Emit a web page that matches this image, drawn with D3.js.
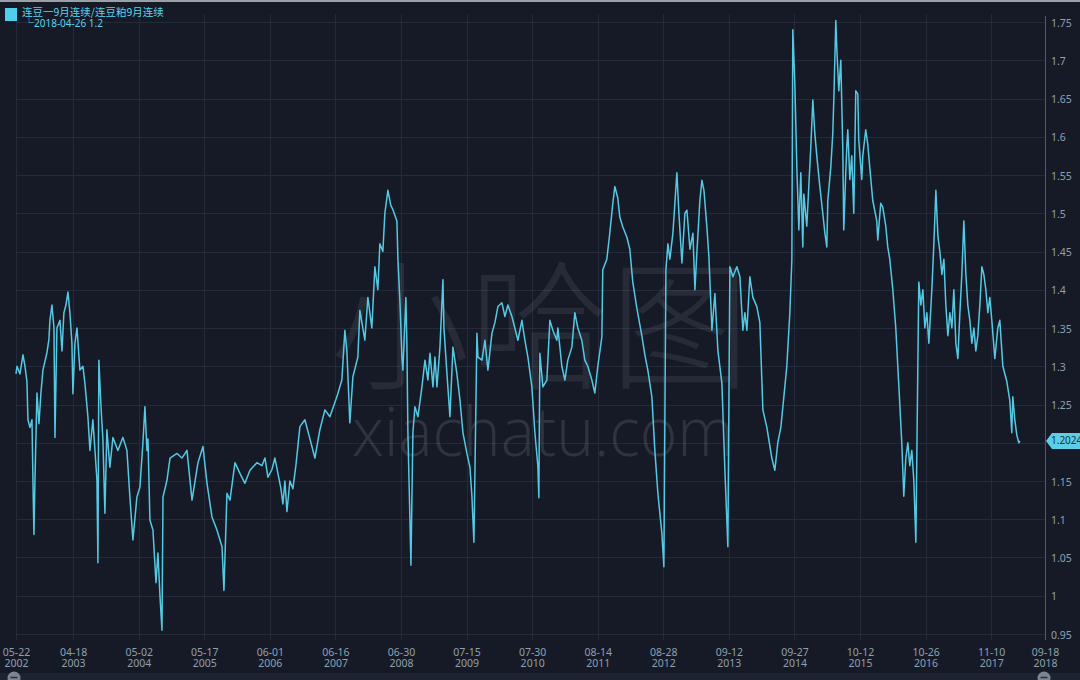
<!DOCTYPE html>
<html><head><meta charset="utf-8">
<script src="https://cdn.jsdelivr.net/npm/d3@7"></script>
<style>html,body{margin:0;padding:0;background:#161a27;overflow:hidden}</style>
</head><body><svg id="c" width="1080" height="680"></svg>
<script>
const seriesName = "连豆一9月连续/连豆粕9月连续";
const lastLabel = "└2018-04-26 1.2";
const lastValue = 1.2024;
const watermarkCn = "小哈图";
const watermarkEn = "xiachatu.com";

// dates as decimal years
const dateYears = [
2002.386,2002.402,2002.449,2002.497,2002.529,2002.560,2002.576,2002.608,2002.640,2002.656,
2002.671,2002.687,2002.719,2002.751,2002.782,2002.814,2002.878,2002.909,2002.925,2002.957,
2002.989,2003.005,2003.036,2003.084,2003.116,2003.147,2003.179,2003.211,2003.242,2003.274,
2003.290,2003.322,2003.354,2003.401,2003.449,2003.480,2003.528,2003.560,2003.607,2003.671,
2003.687,2003.702,2003.734,2003.766,2003.798,2003.829,2003.877,2003.925,2004.004,2004.083,
2004.147,2004.194,2004.242,2004.305,2004.353,2004.400,2004.432,2004.464,2004.480,2004.511,
2004.559,2004.607,2004.638,2004.670,2004.702,2004.718,2004.781,2004.829,2004.940,2005.019,
2005.098,2005.178,2005.273,2005.352,2005.416,2005.495,2005.574,2005.654,2005.685,2005.733,
2005.781,2005.860,2005.939,2006.018,2006.098,2006.209,2006.288,2006.336,2006.383,2006.447,
2006.494,2006.542,2006.590,2006.621,2006.653,2006.685,2006.732,2006.780,2006.827,2006.891,
2006.970,2007.050,2007.129,2007.208,2007.288,2007.367,2007.478,2007.557,2007.605,2007.637,
2007.684,2007.732,2007.811,2007.843,2007.922,2007.970,2008.033,2008.081,2008.128,2008.160,
2008.208,2008.239,2008.287,2008.334,2008.366,2008.430,2008.446,2008.477,2008.509,2008.525,
2008.572,2008.588,2008.604,2008.636,2008.652,2008.683,2008.715,2008.763,2008.826,2008.874,
2008.921,2008.953,2009.001,2009.032,2009.064,2009.112,2009.159,2009.175,2009.223,2009.270,
2009.318,2009.381,2009.429,2009.477,2009.540,2009.588,2009.619,2009.651,2009.699,2009.715,
2009.778,2009.826,2009.873,2009.937,2009.984,2010.032,2010.095,2010.143,2010.190,2010.254,
2010.301,2010.349,2010.413,2010.460,2010.508,2010.571,2010.619,2010.666,2010.682,2010.698,
2010.746,2010.809,2010.857,2010.904,2010.968,2010.984,2011.047,2011.095,2011.142,2011.206,
2011.253,2011.301,2011.364,2011.412,2011.459,2011.523,2011.571,2011.618,2011.682,2011.697,
2011.761,2011.808,2011.856,2011.888,2011.935,2011.967,2012.015,2012.078,2012.126,2012.173,
2012.237,2012.316,2012.364,2012.411,2012.475,2012.522,2012.570,2012.633,2012.665,2012.697,
2012.729,2012.760,2012.808,2012.871,2012.903,2012.951,2012.998,2013.030,2013.078,2013.125,
2013.157,2013.189,2013.236,2013.268,2013.300,2013.347,2013.379,2013.427,2013.474,2013.522,
2013.585,2013.633,2013.680,2013.712,2013.760,2013.823,2013.871,2013.918,2013.950,2013.982,
2014.029,2014.077,2014.140,2014.188,2014.236,2014.299,2014.378,2014.426,2014.473,2014.521,
2014.569,2014.616,2014.664,2014.696,2014.711,2014.743,2014.775,2014.807,2014.838,2014.870,
2014.886,2014.933,2014.965,2014.997,2015.029,2015.060,2015.092,2015.140,2015.187,2015.219,
2015.251,2015.267,2015.314,2015.346,2015.362,2015.394,2015.409,2015.441,2015.473,2015.505,
2015.520,2015.552,2015.568,2015.584,2015.616,2015.647,2015.679,2015.711,2015.743,2015.758,
2015.806,2015.822,2015.869,2015.901,2015.933,2015.980,2016.044,2016.060,2016.107,2016.139,
2016.187,2016.218,2016.250,2016.298,2016.345,2016.377,2016.409,2016.440,2016.472,2016.504,
2016.536,2016.567,2016.599,2016.631,2016.663,2016.694,2016.710,2016.742,2016.774,2016.805,
2016.837,2016.869,2016.916,2016.948,2016.980,2017.012,2017.043,2017.075,2017.107,2017.138,
2017.170,2017.202,2017.234,2017.265,2017.297,2017.329,2017.361,2017.392,2017.424,2017.456,
2017.487,2017.519,2017.551,2017.583,2017.614,2017.646,2017.678,2017.710,2017.741,2017.773,
2017.805,2017.836,2017.868,2017.916,2017.963,2017.995,2018.043,2018.106,2018.154,2018.185,
2018.201,2018.233,2018.265,2018.296,2018.315
];
const ratio = [
1.29,1.30,1.29,1.315,1.30,1.28,1.23,1.22,1.23,1.147,
1.08,1.15,1.265,1.225,1.265,1.295,1.318,1.335,1.36,1.38,
1.35,1.207,1.35,1.36,1.32,1.37,1.38,1.397,1.37,1.33,
1.264,1.33,1.35,1.295,1.30,1.278,1.234,1.19,1.23,1.152,
1.043,1.308,1.25,1.204,1.108,1.217,1.168,1.207,1.19,1.207,
1.19,1.129,1.073,1.129,1.142,1.20,1.247,1.19,1.205,1.099,
1.086,1.017,1.056,1.00,0.955,1.129,1.151,1.18,1.186,1.18,
1.19,1.125,1.174,1.195,1.147,1.103,1.086,1.064,1.007,1.134,
1.125,1.174,1.16,1.147,1.164,1.174,1.17,1.18,1.155,1.165,
1.18,1.16,1.14,1.12,1.15,1.11,1.15,1.14,1.17,1.221,
1.23,1.205,1.18,1.217,1.243,1.234,1.26,1.282,1.347,1.32,
1.226,1.286,1.312,1.373,1.334,1.39,1.35,1.43,1.40,1.46,
1.45,1.50,1.53,1.51,1.505,1.49,1.44,1.386,1.312,1.295,
1.39,1.33,1.213,1.10,1.04,1.213,1.247,1.234,1.273,1.308,
1.282,1.317,1.273,1.312,1.273,1.325,1.413,1.35,1.29,1.234,
1.325,1.29,1.256,1.213,1.186,1.168,1.13,1.07,1.343,1.312,
1.308,1.334,1.295,1.343,1.357,1.378,1.383,1.365,1.38,1.365,
1.35,1.334,1.36,1.334,1.312,1.273,1.213,1.17,1.128,1.317,
1.273,1.282,1.36,1.347,1.334,1.35,1.30,1.282,1.308,1.325,
1.37,1.35,1.334,1.308,1.30,1.282,1.265,1.30,1.338,1.426,
1.44,1.474,1.513,1.535,1.52,1.495,1.482,1.469,1.453,1.41,
1.376,1.34,1.315,1.295,1.26,1.19,1.134,1.082,1.038,1.426,
1.46,1.44,1.474,1.553,1.50,1.435,1.50,1.504,1.453,1.474,
1.40,1.45,1.517,1.543,1.53,1.482,1.443,1.347,1.395,1.32,
1.278,1.164,1.064,1.43,1.417,1.43,1.417,1.347,1.37,1.347,
1.417,1.39,1.378,1.357,1.243,1.22,1.18,1.164,1.20,1.22,
1.26,1.30,1.37,1.439,1.74,1.67,1.56,1.478,1.553,1.456,
1.525,1.483,1.535,1.587,1.648,1.605,1.575,1.535,1.50,1.475,
1.456,1.517,1.56,1.605,1.648,1.752,1.717,1.66,1.70,1.583,
1.478,1.553,1.587,1.609,1.544,1.575,1.50,1.66,1.656,1.596,
1.544,1.575,1.609,1.59,1.56,1.517,1.49,1.465,1.513,1.508,
1.483,1.456,1.44,1.40,1.35,1.30,1.25,1.20,1.13,1.18,
1.20,1.17,1.19,1.15,1.07,1.30,1.41,1.38,1.40,1.35,
1.37,1.33,1.40,1.46,1.53,1.47,1.45,1.42,1.44,1.38,
1.34,1.37,1.35,1.40,1.33,1.31,1.37,1.42,1.49,1.42,
1.38,1.36,1.33,1.35,1.32,1.34,1.38,1.43,1.42,1.40,
1.37,1.39,1.36,1.31,1.35,1.36,1.30,1.28,1.255,1.213,
1.26,1.23,1.21,1.20,1.2024
];
const xTickDates = ["2002-05-22","2003-04-18","2004-05-02","2005-05-17","2006-06-01","2007-06-16",
  "2008-06-30","2009-07-15","2010-07-30","2011-08-14","2012-08-28","2013-09-12","2014-09-27",
  "2015-10-12","2016-10-26","2017-11-10","2018-09-18"];
const yTicks = [0.95,1,1.05,1.1,1.15,1.2,1.25,1.3,1.35,1.4,1.45,1.5,1.55,1.6,1.65,1.7,1.75];

const C = {bg:"#161a27", grid:"#232a39", line:"#55c8e2", label:"#8fa0b0", axis:"#3f626c", legend:"#5ad2ea"};
const FONT = "'Noto Sans','Noto Sans CJK SC',sans-serif";

function yearToDate(v){ const Y=Math.floor(v); const s=Date.UTC(Y,0,1), e=Date.UTC(Y+1,0,1); return new Date(s+(v-Y)*(e-s)); }
const parse = d3.utcParse("%Y-%m-%d");
const data = dateYears.map((d,i)=>({date:yearToDate(d), v:ratio[i]}));
const tickDates = xTickDates.map(parse);

const svg = d3.select("#c");
svg.append("rect").attr("width",1080).attr("height",680).attr("fill",C.bg);
svg.append("rect").attr("width",1080).attr("height",2).attr("fill","#9aa0a8");

const x = d3.scaleUtc().domain([tickDates[0], tickDates[tickDates.length-1]]).range([16,1045]);
const y = d3.scaleLinear().domain([0.95,1.75]).range([634,22]);

// grid
const grid = svg.append("g");
grid.selectAll("line.h").data(yTicks).join("line").attr("class","h")
  .attr("x1",16).attr("x2",1045).attr("y1",d=>Math.round(y(d))+0.5).attr("y2",d=>Math.round(y(d))+0.5)
  .attr("stroke",C.grid).attr("stroke-width",1);
grid.selectAll("line.v").data(tickDates.slice(0,-1)).join("line").attr("class","v")
  .attr("x1",d=>Math.round(x(d))+0.5).attr("x2",d=>Math.round(x(d))+0.5).attr("y1",14).attr("y2",640)
  .attr("stroke",C.grid).attr("stroke-width",1);

// watermark
svg.append("text").attr("x",540).attr("y",378).attr("text-anchor","middle")
  .attr("font-family","'Noto Sans CJK SC',sans-serif").attr("font-size",140).attr("font-weight",300)
  .attr("fill","#ffffff").attr("fill-opacity",0.075).text(watermarkCn);
svg.append("text").attr("x",352).attr("y",456).attr("textLength",382).attr("lengthAdjust","spacingAndGlyphs")
  .attr("font-family","'Open Sans',sans-serif").attr("font-size",68).attr("font-weight",300)
  .attr("fill","#ffffff").attr("fill-opacity",0.11).text(watermarkEn);

// line
svg.append("path").datum(data)
  .attr("d", d3.line().x(d=>x(d.date)).y(d=>y(d.v)))
  .attr("fill","none").attr("stroke",C.line).attr("stroke-width",1.5).attr("stroke-linejoin","round");

// right axis (the 1.2 label is hidden behind the last-value callout in the reference)
const ya = svg.append("g").attr("transform","translate(1045,0)")
  .call(d3.axisRight(y).tickValues(yTicks).tickSize(0).tickPadding(6)
    .tickFormat(d=> Math.abs(d-lastValue) < 0.02 ? "" : String(+d.toFixed(2))));
ya.select(".domain").remove();
ya.selectAll("text").attr("fill",C.label).attr("font-size",10.5).attr("font-family",FONT).attr("dy","0.4em");
svg.append("line").attr("x1",1045.5).attr("x2",1045.5).attr("y1",16).attr("y2",640).attr("stroke",C.axis);

// bottom axis
const xa = svg.append("g").attr("transform","translate(0,641)")
  .call(d3.axisBottom(x).tickValues(tickDates).tickSize(0).tickPadding(0).tickFormat(()=>""));
xa.select(".domain").remove();
xa.selectAll(".tick text").each(function(d){
  const t = d3.select(this).attr("y",0).attr("dy",null);
  t.append("tspan").attr("x",0).attr("y",15).text(d3.utcFormat("%m-%d")(d));
  t.append("tspan").attr("x",0).attr("y",26).text(d3.utcFormat("%Y")(d));
}).attr("fill",C.label).attr("font-size",10.5).attr("font-family",FONT);

// last value callout
const ly = y(lastValue);
svg.append("path").attr("d",`M1046,${ly} L1052,${ly-8} L1080,${ly-8} L1080,${ly+8} L1052,${ly+8} Z`).attr("fill","#5ccfe6");
svg.append("text").attr("x",1051).attr("y",ly+3.5).attr("font-size",10).attr("font-family",FONT)
  .attr("fill","#17303c").text(lastValue.toFixed(4));

// legend
svg.append("rect").attr("x",5).attr("y",8).attr("width",12).attr("height",13).attr("fill","#4fd0ea");
svg.append("text").attr("x",22).attr("y",15.5).attr("font-size",10.5).attr("font-family","'Noto Sans CJK SC',sans-serif")
  .attr("fill",C.legend).text(seriesName);
svg.append("text").attr("x",24).attr("y",27).attr("font-size",10).attr("font-family",FONT)
  .attr("fill",C.legend).text(lastLabel);

// bottom scrollbar
svg.append("rect").attr("x",0).attr("y",673).attr("width",1080).attr("height",7).attr("fill","#1e2331");
[14,1044].forEach(cx=>{
  svg.append("circle").attr("cx",cx).attr("cy",678).attr("r",6.5).attr("fill","#7d8594");
  svg.append("line").attr("x1",cx-3.5).attr("x2",cx+3.5).attr("y1",677.5).attr("y2",677.5).attr("stroke","#2a2f3b").attr("stroke-width",1.5);
});
</script></body></html>
